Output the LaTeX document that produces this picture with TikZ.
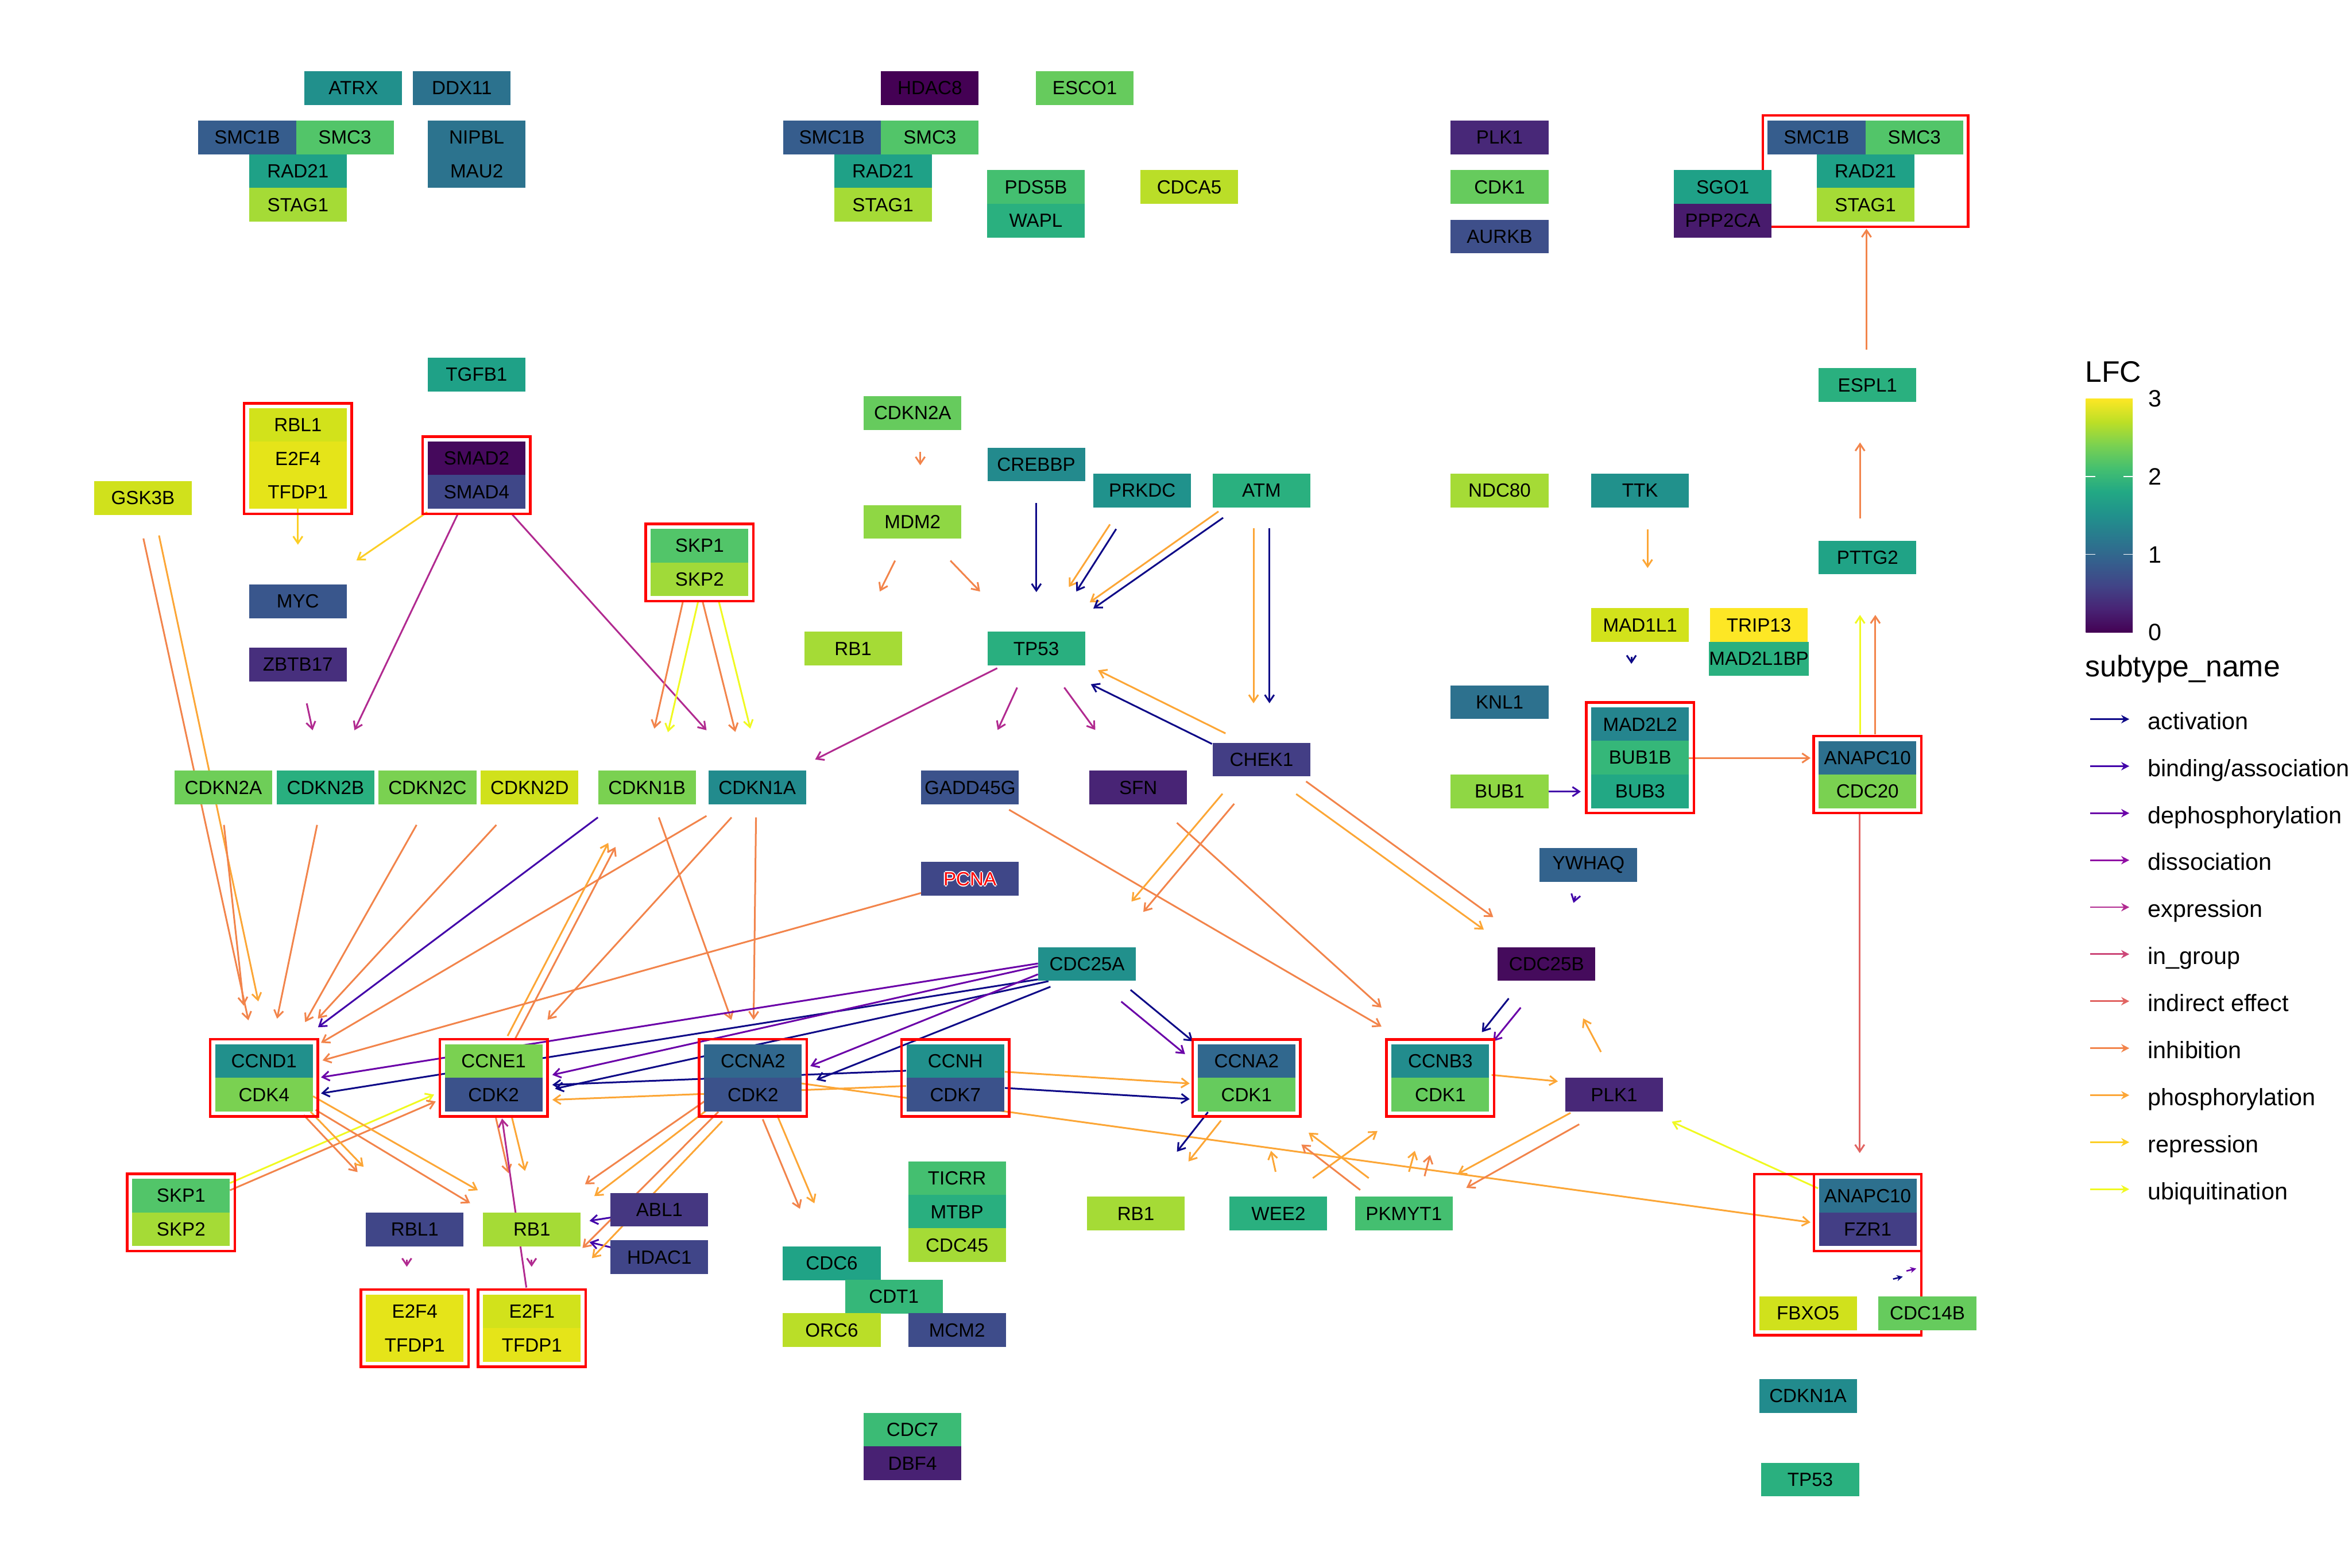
\documentclass[tikz,border=0pt]{standalone}
\usepackage{fontspec}
\setmainfont{Liberation Sans}
\usetikzlibrary{arrows.meta,fit}
\pgfdeclarelayer{bg}
\pgfsetlayers{bg,main}
\definecolor{cact}{HTML}{0D0887}
\definecolor{cbind}{HTML}{4203A9}
\definecolor{cdeph}{HTML}{6A00A8}
\definecolor{cdiss}{HTML}{900DA4}
\definecolor{cexpr}{HTML}{B12A90}
\definecolor{cingr}{HTML}{CC4778}
\definecolor{cindi}{HTML}{E16462}
\definecolor{cinhi}{HTML}{F2844B}
\definecolor{cphos}{HTML}{FCA636}
\definecolor{crepr}{HTML}{FCCE25}
\definecolor{cubiq}{HTML}{F0F921}
\definecolor{vA}{HTML}{440154}
\definecolor{vB}{HTML}{482475}
\definecolor{vC}{HTML}{414487}
\definecolor{vD}{HTML}{355F8D}
\definecolor{vE}{HTML}{2A788E}
\definecolor{vF}{HTML}{21918C}
\definecolor{vG}{HTML}{22A884}
\definecolor{vH}{HTML}{44BF70}
\definecolor{vI}{HTML}{7AD151}
\definecolor{vJ}{HTML}{BDDF26}
\definecolor{vK}{HTML}{FDE725}
\pgfdeclareverticalshading{viridisbar}{100bp}{color(0bp)=(vA); color(25bp)=(vA); color(30bp)=(vB); color(35bp)=(vC); color(40bp)=(vD); color(45bp)=(vE); color(50bp)=(vF); color(55bp)=(vG); color(60bp)=(vH); color(65bp)=(vI); color(70bp)=(vJ); color(75bp)=(vK); color(100bp)=(vK)}
\newcommand{\gene}[5]{\definecolor{gfill}{HTML}{#4}\node[gene,fill=gfill] (#1) at (#2,#3) {#5};}
\newcommand{\glowtext}[1]{\makebox[0pt]{\raisebox{0.7pt}{\color{white}#1}}\makebox[0pt]{\raisebox{-0.7pt}{\color{white}#1}}\makebox[0pt]{\kern1.4pt\color{white}#1}\makebox[0pt]{\color{white}#1\kern1.4pt}\makebox[0pt]{\color{red}#1}}
\tikzset{
  gene/.style={rectangle, draw=none, minimum width=65.1pt, minimum height=22.5pt, inner sep=0pt, font=\fontsize{12.7}{14}\selectfont, text=black},
  redbox/.style={rectangle, draw=red, line width=1.7pt, inner sep=3.1pt, fill=none},
  edge/.style={line width=1.15pt, -{Straight Barb[length=4.6pt,width=6.2pt]}},
  act/.style={edge, draw=cact},
  bind/.style={edge, draw=cbind},
  deph/.style={edge, draw=cdeph},
  expr/.style={edge, draw=cexpr},
  indi/.style={edge, draw=cindi},
  inhi/.style={edge, draw=cinhi},
  phos/.style={edge, draw=cphos},
  repr/.style={edge, draw=crepr},
  ubiq/.style={edge, draw=cubiq},
  flag/.style={line width=1pt, -{Stealth[length=4pt,width=4pt]}},
  legtext/.style={anchor=base west, inner sep=0pt, font=\fontsize{15.8}{18}\selectfont},
  legtitle/.style={anchor=base west, inner sep=0pt, font=\fontsize{19.8}{22}\selectfont},
  legarrow/.style={line width=1.1pt, -{Stealth[length=5.4pt,width=5.6pt,inset=1.8pt]}}
}
\begin{document}
\begin{tikzpicture}[x=1pt,y=-1pt]
\useasboundingbox (0,0) rectangle (1568,1045.3);
% ---------------- top left
\gene{atrx}{235.6}{58.7}{21908C}{ATRX}
\gene{ddx11}{307.9}{58.7}{2C728E}{DDX11}
\gene{smc1b-a}{164.8}{91.6}{365D8D}{SMC1B}
\gene{smc3-a}{229.9}{91.6}{52C569}{SMC3}
\gene{rad21-a}{198.6}{114.1}{1FA187}{RAD21}
\gene{stag1-a}{198.6}{136.6}{A5DB36}{STAG1}
\gene{nipbl}{317.8}{91.6}{2C738E}{NIPBL}
\gene{mau2}{317.8}{114.1}{2C738E}{MAU2}
% ---------------- top middle
\gene{hdac8}{619.9}{58.7}{440154}{HDAC8}
\gene{esco1}{723.2}{58.7}{66CB5D}{ESCO1}
\gene{smc1b-b}{554.6}{91.6}{365D8D}{SMC1B}
\gene{smc3-b}{619.9}{91.6}{52C569}{SMC3}
\gene{rad21-b}{588.6}{114.1}{1FA187}{RAD21}
\gene{stag1-b}{588.6}{136.6}{A5DB36}{STAG1}
\gene{pds5b}{690.6}{124.7}{44BF70}{PDS5B}
\gene{wapl}{690.6}{147.1}{2AB07F}{WAPL}
\gene{cdca5}{792.8}{124.7}{BADE28}{CDCA5}
% ---------------- top right
\gene{plk1-a}{999.7}{91.6}{482878}{PLK1}
\gene{cdk1-a}{999.7}{124.7}{66CB5D}{CDK1}
\gene{aurkb}{999.7}{157.7}{3E4F8A}{AURKB}
\gene{sgo1}{1148.5}{124.7}{1FA187}{SGO1}
\gene{ppp2ca}{1148.5}{147.1}{481B6D}{PPP2CA}
\gene{smc1b-c}{1211}{91.6}{365D8D}{SMC1B}
\gene{smc3-c}{1276.2}{91.6}{52C569}{SMC3}
\gene{rad21-c}{1243.6}{114.1}{1FA187}{RAD21}
\gene{stag1-c}{1243.6}{136.6}{A5DB36}{STAG1}
% ---------------- middle left
\gene{tgfb1}{317.7}{249.8}{1FA187}{TGFB1}
\gene{rbl1-a}{198.6}{283.4}{D2E21B}{RBL1}
\gene{e2f4-a}{198.6}{305.7}{E5E419}{E2F4}
\gene{tfdp1-a}{198.6}{328}{E5E419}{TFDP1}
\gene{smad2}{317.7}{305.7}{45095C}{SMAD2}
\gene{smad4}{317.7}{328}{3F4788}{SMAD4}
\gene{gsk3b}{95.3}{332.1}{D0E11C}{GSK3B}
\gene{myc}{198.6}{400.9}{39568C}{MYC}
\gene{zbtb17}{198.6}{443.1}{472F7D}{ZBTB17}
\gene{skp1-a}{466.4}{363.8}{52C569}{SKP1}
\gene{skp2-a}{466.4}{386.3}{A0DA39}{SKP2}
\gene{cdkn2a-a}{148.9}{525.1}{6ECE58}{CDKN2A}
\gene{cdkn2b}{217}{525.1}{29AF7F}{CDKN2B}
\gene{cdkn2c}{285}{525.1}{7AD151}{CDKN2C}
\gene{cdkn2d}{353.1}{525.1}{D0E11C}{CDKN2D}
\gene{cdkn1b}{431.3}{525.1}{7AD151}{CDKN1B}
\gene{cdkn1a-a}{504.8}{525.1}{228B8D}{CDKN1A}
% ---------------- middle centre
\gene{cdkn2a-b}{608.4}{275.3}{66CB5D}{CDKN2A}
\gene{crebbp}{690.8}{309.7}{238A8D}{CREBBP}
\gene{prkdc}{761.5}{327}{20928C}{PRKDC}
\gene{atm}{841}{327}{2AB07F}{ATM}
\gene{mdm2}{608.4}{348}{8FD744}{MDM2}
\gene{rb1-b}{568.7}{432.5}{A5DB36}{RB1}
\gene{tp53-a}{690.8}{432.5}{29AF7F}{TP53}
\gene{chek1}{841}{506.5}{433E85}{CHEK1}
\gene{gadd45g}{646.7}{525.1}{3B528B}{GADD45G}
\gene{sfn}{758.8}{525.1}{482475}{SFN}
% ---------------- middle right
\gene{espl1}{1245}{256.8}{2AB07F}{ESPL1}
\gene{ndc80}{999.7}{327}{A5DB36}{NDC80}
\gene{ttk}{1093.4}{327}{21918C}{TTK}
\gene{pttg2}{1245}{371.7}{20A386}{PTTG2}
\gene{mad1l1}{1093.4}{416.8}{D2E21B}{MAD1L1}
\gene{trip13}{1172.6}{416.8}{FDE725}{TRIP13}
\gene{mad2l1bp}{1172.6}{439.2}{2AB07F}{MAD2L1BP}
\gene{knl1}{999.7}{468.2}{2D718E}{KNL1}
\gene{mad2l2}{1093.4}{482.9}{25858E}{MAD2L2}
\gene{bub1b}{1093.4}{505.2}{35B779}{BUB1B}
\gene{bub3}{1093.4}{527.6}{22A884}{BUB3}
\gene{bub1}{999.7}{527.7}{8FD744}{BUB1}
\gene{anapc10-a}{1245}{505.3}{2D708E}{ANAPC10}
\gene{cdc20}{1245}{527.6}{7AD151}{CDC20}
% ---------------- lower left
\gene{ccnd1}{176}{707.5}{21908C}{CCND1}
\gene{cdk4}{176}{729.9}{7AD151}{CDK4}
\gene{ccne1}{329.1}{707.5}{7AD151}{CCNE1}
\gene{cdk2-a}{329.1}{729.9}{3B528B}{CDK2}
\gene{ccna2-a}{502}{707.5}{31688E}{CCNA2}
\gene{cdk2-b}{502}{729.9}{3B528B}{CDK2}
\gene{skp1-b}{120.7}{797.2}{52C569}{SKP1}
\gene{skp2-b}{120.7}{819.6}{A5DB36}{SKP2}
\gene{rbl1-b}{276.5}{819.7}{404688}{RBL1}
\gene{rb1-c}{354.6}{819.7}{A5DB36}{RB1}
\gene{abl1}{439.6}{806.6}{453781}{ABL1}
\gene{hdac1}{439.6}{838.3}{404588}{HDAC1}
\gene{e2f4-b}{276.5}{874.3}{E5E419}{E2F4}
\gene{tfdp1-b}{276.5}{896.8}{E5E419}{TFDP1}
\gene{e2f1}{354.6}{874.3}{D2E21B}{E2F1}
\gene{tfdp1-c}{354.6}{896.8}{E5E419}{TFDP1}
% ---------------- lower centre
\definecolor{pcnafill}{HTML}{3F4788}
\node[gene,fill=pcnafill] (pcna) at (646.6,586) {\glowtext{PCNA}};
\gene{ywhaq}{1059}{576.7}{33638D}{YWHAQ}
\gene{cdc25a}{724.7}{642.7}{21908C}{CDC25A}
\gene{cdc25b}{1031}{642.7}{450B5C}{CDC25B}
\gene{ccnh}{636.9}{707.6}{21908C}{CCNH}
\gene{cdk7}{636.9}{729.9}{3B528B}{CDK7}
\gene{ccna2-b}{831}{707.6}{31688E}{CCNA2}
\gene{cdk1-b}{831}{729.9}{66CB5D}{CDK1}
\gene{ccnb3}{960.2}{707.6}{228C8D}{CCNB3}
\gene{cdk1-c}{960.2}{729.9}{66CB5D}{CDK1}
\gene{plk1-b}{1076.1}{729.9}{482878}{PLK1}
\gene{ticrr}{638}{785.7}{44BF70}{TICRR}
\gene{mtbp}{638}{808}{29AF7F}{MTBP}
\gene{cdc45}{638}{830.2}{A5DB36}{CDC45}
\gene{cdc6}{554.5}{842.4}{20A386}{CDC6}
\gene{cdt1}{595.9}{864.6}{35B779}{CDT1}
\gene{orc6}{554.5}{886.9}{BADE28}{ORC6}
\gene{mcm2}{638}{886.9}{3E4C8A}{MCM2}
\gene{rb1-d}{757.2}{809.2}{A5DB36}{RB1}
\gene{wee2}{852.3}{809.2}{2AB07F}{WEE2}
\gene{pkmyt1}{935.9}{809.2}{44BF70}{PKMYT1}
\gene{cdc7}{608.3}{953.4}{3BBB75}{CDC7}
\gene{dbf4}{608.3}{975.7}{482173}{DBF4}
% ---------------- lower right
\gene{anapc10-b}{1245.1}{797.3}{2D708E}{ANAPC10}
\gene{fzr1}{1245.1}{819.6}{433E85}{FZR1}
\gene{fbxo5}{1205.3}{875.6}{D0E11C}{FBXO5}
\gene{cdc14b}{1284.9}{875.6}{66CB5D}{CDC14B}
\gene{cdkn1a-b}{1205.3}{930.8}{228B8D}{CDKN1A}
\gene{tp53-b}{1206.8}{986.5}{2AB07F}{TP53}

\begin{pgfonlayer}{bg}
% ---- edges, top right
\draw[inhi] (1244.3,233) -- (1244.3,152.5);
\draw[inhi] (1240,345.7) -- (1240,295);
\draw[ubiq] (1240,489.6) -- (1240,410);
\draw[inhi] (1250.2,489.6) -- (1250.2,410);
\draw[inhi] (1124.6,505.4) -- (1207,505.4);
\draw[bind] (1032.2,527.8) -- (1053.9,527.8);
\draw[phos] (1098.4,352.8) -- (1098.4,378.7);
\draw[act] (1087.6,437.8) -- (1087.6,442.6);
\draw[indi] (1239.8,542.5) -- (1239.8,768.8);
\draw[ubiq] (1212,792.3) -- (1114.5,747.9);
\draw[phos] (520,720.4) -- (1207,815);
\draw[flag,draw=cact] (1262,852.8) -- (1268.5,851.2);
\draw[flag,draw=cdeph] (1271,847.4) -- (1277.5,845.8);
% ---- upper left
\draw[repr] (198.6,339.3) -- (198.6,363.2);
\draw[repr] (284.8,341.5) -- (237.6,373.7);
\draw[expr] (305.3,342.5) -- (236.3,486.9);
\draw[expr] (341,342.5) -- (471,486.9);
\draw[expr] (204.5,469) -- (208.4,486.9);
\draw[inhi] (455.4,400.5) -- (436.2,485.8);
\draw[ubiq] (465.4,401) -- (445.3,488.2);
\draw[inhi] (468.4,401) -- (490.2,488);
\draw[ubiq] (479.1,400.5) -- (500.2,485.8);
\draw[inhi] (95.6,359) -- (165.6,680.3);
\draw[phos] (106,357) -- (172.2,667.7);
\draw[inhi] (149.3,550) -- (162.5,670.5);
\draw[inhi] (211.4,550) -- (184.7,679.2);
\draw[inhi] (277.7,550) -- (203.4,681.5);
\draw[inhi] (330.9,550) -- (211.9,679.2);
\draw[bind] (398.6,545) -- (212,684.9);
\draw[inhi] (471,544) -- (214,695.3);
\draw[inhi] (487.7,545) -- (365,679.9);
\draw[inhi] (439.2,545) -- (487.6,680);
\draw[inhi] (504,545) -- (502.4,680);
\draw[phos] (338.4,690.7) -- (405.5,562);
\draw[inhi] (343.6,692.3) -- (410.3,564.7);
\draw[inhi] (614,595.4) -- (215,707);
% ---- CDC25A and CDK complexes
\draw[deph] (692,642.4) -- (214,718.3);
\draw[act] (692,653) -- (214,729);
\draw[deph] (692,644.2) -- (368.2,716.7);
\draw[act] (699,654.2) -- (370,725.9);
\draw[deph] (692,649.6) -- (540.2,710.8);
\draw[act] (700.3,657.9) -- (544.2,720);
\draw[act] (604,713.9) -- (368.2,723.3);
\draw[phos] (604,724.1) -- (368.2,733.3);
\draw[phos] (669.9,714.6) -- (793.1,722.4);
\draw[act] (669.9,725.4) -- (793.1,732.8);
\draw[act] (753.7,660) -- (795.3,694.3);
\draw[deph] (747.5,667.8) -- (790,702.8);
% ---- lower left
\draw[ubiq] (153.3,788.8) -- (289.4,729.8);
\draw[inhi] (153.3,793.6) -- (290.5,734.4);
\draw[inhi] (202.5,743.5) -- (238.4,781.5);
\draw[phos] (207.1,741.3) -- (242.4,778);
\draw[inhi] (210.4,740) -- (313.4,802.2);
\draw[phos] (208.7,730.9) -- (318.6,793.6);
\draw[inhi] (330.6,745.4) -- (339,782.2);
\draw[phos] (340.9,743.5) -- (350,780.7);
\draw[expr] (350.9,858.5) -- (334.7,745.8);
\draw[expr] (271.2,840) -- (271.2,844.6);
\draw[expr] (354.4,840) -- (354.4,844.6);
\draw[bind] (407,811.8) -- (393,814);
\draw[bind] (407,831.6) -- (393,828.2);
\draw[inhi] (469.5,734.4) -- (390,789.6);
\draw[phos] (474.3,737.8) -- (396.2,797.5);
\draw[inhi] (478.9,741.3) -- (388.3,832.1);
\draw[phos] (481.5,747.6) -- (394.6,838.9);
\draw[inhi] (508.5,746.3) -- (533.3,806);
\draw[phos] (518,743.4) -- (542.9,802.3);
% ---- lower centre
\draw[act] (805.3,741.5) -- (784.6,767.9);
\draw[phos] (814,747.1) -- (792.3,774.4);
\draw[phos] (850.4,781.3) -- (847.3,767.3);
\draw[phos] (875.2,785.5) -- (918.3,754.1);
\draw[phos] (912.5,785.5) -- (872.4,755.2);
\draw[inhi] (906.8,793.4) -- (867.6,763.1);
\draw[phos] (939.3,781.3) -- (943.2,767.3);
\draw[inhi] (949.7,784.2) -- (953.4,770.1);
\draw[phos] (1047,742) -- (971.8,782.7);
\draw[inhi] (1052.8,749.6) -- (977.5,792);
\draw[phos] (994.4,716.7) -- (1038.6,721);
\draw[phos] (1067.3,701.4) -- (1055.4,679);
\draw[act] (1005.8,665.7) -- (987.9,688.2);
\draw[deph] (1013.8,671.8) -- (995.5,694.3);
\draw[bind] (1050.3,597.5) -- (1049,602);
\draw[inhi] (672.7,539.9) -- (921,684.5);
\draw[inhi] (784.6,548.6) -- (921,671.8);
\draw[phos] (815,529.2) -- (754.3,601.1);
\draw[inhi] (822.8,535.9) -- (762.2,608);
\draw[inhi] (870.7,521) -- (995.5,611.5);
\draw[phos] (864.1,529.4) -- (989.2,619.8);
% ---- TP53 area
\draw[act] (808,496) -- (727.2,456.2);
\draw[phos] (817,489) -- (732,446.9);
\draw[phos] (812.3,341) -- (726.5,401.6);
\draw[act] (815.4,345.2) -- (728.9,405.7);
\draw[phos] (835.7,352.3) -- (835.7,468.9);
\draw[act] (846.3,352.3) -- (846.3,468.9);
\draw[phos] (740,349.6) -- (712.6,391.4);
\draw[act] (744.1,352.7) -- (717.5,394.4);
\draw[act] (690.9,335.4) -- (690.9,394.8);
\draw[inhi] (613.5,301.2) -- (613.5,310.2);
\draw[inhi] (596.7,373.8) -- (586.5,394.4);
\draw[inhi] (633.6,373.8) -- (653.4,394.4);
\draw[expr] (664.8,445.5) -- (543.4,506.4);
\draw[expr] (678.1,458.4) -- (665.1,486.7);
\draw[expr] (709.5,458.4) -- (730.2,486.7);
% ---- complex frames
\node[redbox, fit=(smc1b-c)(smc3-c)(stag1-c)] (g-smc) {};
\node[redbox, fit=(rbl1-a)(tfdp1-a)] (g-rbl1) {};
\node[redbox, fit=(smad2)(smad4)] (g-smad) {};
\node[redbox, fit=(skp1-a)(skp2-a)] (g-skpa) {};
\node[redbox, fit=(mad2l2)(bub3)] (g-mad) {};
\node[redbox, fit=(anapc10-a)(cdc20)] (g-apca) {};
\node[redbox, fit=(ccnd1)(cdk4)] (g-ccnd1) {};
\node[redbox, fit=(ccne1)(cdk2-a)] (g-ccne1) {};
\node[redbox, fit=(ccna2-a)(cdk2-b)] (g-ccna2a) {};
\node[redbox, fit=(skp1-b)(skp2-b)] (g-skpb) {};
\node[redbox, fit=(e2f4-b)(tfdp1-b)] (g-e2f4) {};
\node[redbox, fit=(e2f1)(tfdp1-c)] (g-e2f1) {};
\node[redbox, fit=(ccnh)(cdk7)] (g-ccnh) {};
\node[redbox, fit=(ccna2-b)(cdk1-b)] (g-ccna2b) {};
\node[redbox, fit=(ccnb3)(cdk1-c)] (g-ccnb3) {};
\node[redbox, fit=(anapc10-b)(fzr1)] (g-apcb) {};
\node[redbox, fit=(anapc10-b)(fzr1)(fbxo5)] (g-apcout) {};
\end{pgfonlayer}

% ---------------- legend
\node[legtitle] (lfc) at (1390,254.6) {LFC};
\shade[shading=viridisbar] (1390.5,265.7) rectangle (1421.8,421.6);
\draw[white, line width=0.7pt] (1390.5,317.7) -- (1396.7,317.7) (1415.6,317.7) -- (1421.8,317.7)
  (1390.5,369.6) -- (1396.7,369.6) (1415.6,369.6) -- (1421.8,369.6);
\node[legtext] (t3) at (1432,271.3) {3};
\node[legtext] (t2) at (1432,323.3) {2};
\node[legtext] (t1) at (1432,375.2) {1};
\node[legtext] (t0) at (1432,427.2) {0};
\node[legtitle] (stn) at (1390,451) {subtype\_name};
\foreach \k/\c/\t in {0/cact/activation, 1/cbind/binding\slash association, 2/cdeph/dephosphorylation, 3/cdiss/dissociation, 4/cexpr/expression, 5/cingr/in\_group, 6/cindi/indirect effect, 7/cinhi/inhibition, 8/cphos/phosphorylation, 9/crepr/repression, 10/cubiq/ubiquitination}{
  \pgfmathsetmacro{\yy}{479.5+31.34*\k}
  \coordinate (la\k) at (1393.6,\yy);
  \coordinate (lb\k) at (1419.5,\yy);
  \draw[legarrow, draw=\c] (la\k) -- (lb\k);
  \node[legtext] (lt\k) at (1431.8,\yy+6.8) {\t};
}
\end{tikzpicture}
\end{document}
